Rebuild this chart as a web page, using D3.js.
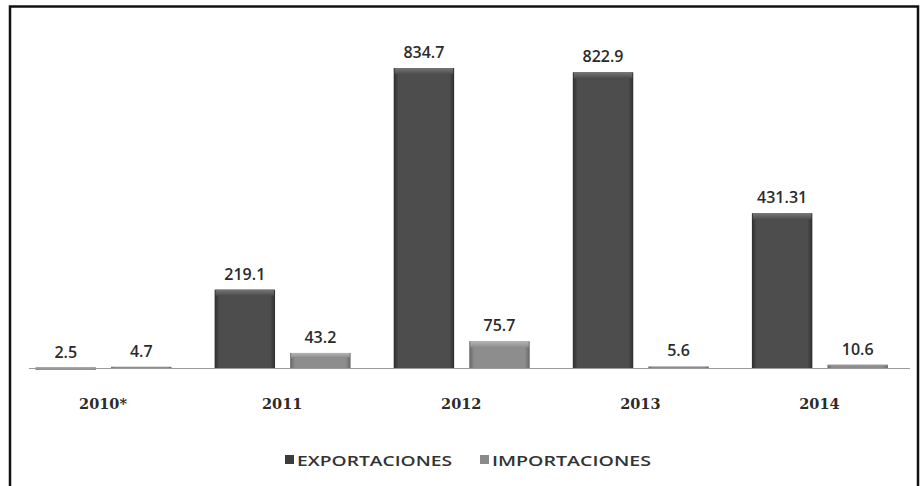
<!DOCTYPE html>
<html>
<head>
<meta charset="utf-8">
<script src="https://cdn.jsdelivr.net/npm/d3@7"></script>
<style>
  body { margin: 0; background: #fff; }
  text { font-family: "Open Sans", "Noto Sans", sans-serif; }
</style>
</head>
<body>
<script>
// chart data
const years = ['2010*', '2011', '2012', '2013', '2014'];
const series = ['EXPORTACIONES', 'IMPORTACIONES'];
const exportaciones = [2.5, 219.1, 834.7, 822.9, 431.31];
const importaciones = [4.7, 43.2, 75.7, 5.6, 10.6];
const valueLabels = [['2.5', '4.7'], ['219.1', '43.2'], ['834.7', '75.7'], ['822.9', '5.6'], ['431.31', '10.6']];

const svgWidth = 922, svgHeight = 486;
const baseY = 368.5;

const svg = d3.select('body').append('svg')
    .attr('width', svgWidth)
    .attr('height', svgHeight);

// bevelled look of the original bars
const defs = svg.append('defs');
function bevel(id, light, mid, dark) {
    const g = defs.append('linearGradient').attr('id', id).attr('x1', 0).attr('x2', 1).attr('y1', 0).attr('y2', 0);
    g.append('stop').attr('offset', '0%').attr('stop-color', dark);
    g.append('stop').attr('offset', '8%').attr('stop-color', mid);
    g.append('stop').attr('offset', '92%').attr('stop-color', mid);
    g.append('stop').attr('offset', '100%').attr('stop-color', dark);
    const t = defs.append('linearGradient').attr('id', id + '_top').attr('x1', 0).attr('x2', 0).attr('y1', 0).attr('y2', 1);
    t.append('stop').attr('offset', '0%').attr('stop-color', light);
    t.append('stop').attr('offset', '100%').attr('stop-color', mid);
}
bevel('gExp', '#777', '#4d4d4d', '#2e2e2e');
bevel('gImp', '#b5b5b5', '#8d8d8d', '#666');
const fills = { EXPORTACIONES: 'url(#gExp)', IMPORTACIONES: 'url(#gImp)' };
const tops = { EXPORTACIONES: 'url(#gExp_top)', IMPORTACIONES: 'url(#gImp_top)' };
const swatch = { EXPORTACIONES: '#3c3c3c', IMPORTACIONES: '#8a8a8a' };

// frame (top, left, right only)
svg.append('path')
    .attr('d', `M10,486 V6.5 H918 V486`)
    .attr('fill', 'none')
    .attr('stroke', '#111')
    .attr('stroke-width', 2.5);

const x0 = d3.scaleBand().domain(years).range([13.5, 909]);
const x1 = d3.scaleBand().domain(series).range([22, 158]).paddingInner(0.2);
const y = d3.scaleLinear().domain([0, 834.7]).range([baseY, 68]);

const data = years.map((yr, i) => ({
    year: yr,
    values: [
        { key: 'EXPORTACIONES', value: exportaciones[i], label: valueLabels[i][0] },
        { key: 'IMPORTACIONES', value: importaciones[i], label: valueLabels[i][1] }
    ]
}));

const groups = svg.selectAll('g.grp')
    .data(data)
    .enter()
    .append('g')
    .attr('class', 'grp')
    .attr('transform', d => `translate(${x0(d.year)},0)`);

const bars = groups.selectAll('g.bar')
    .data(d => d.values)
    .enter()
    .append('g')
    .attr('class', 'bar');

bars.append('rect')
    .attr('x', d => x1(d.key))
    .attr('y', d => y(d.value))
    .attr('width', x1.bandwidth())
    .attr('height', d => Math.max(baseY - y(d.value), 2))
    .attr('fill', d => fills[d.key]);

bars.append('rect')
    .attr('x', d => x1(d.key) + 1)
    .attr('y', d => y(d.value))
    .attr('width', x1.bandwidth() - 2)
    .attr('height', d => Math.min(Math.max(baseY - y(d.value), 0) * 0.3, 6))
    .attr('fill', d => tops[d.key]);

bars.append('text')
    .attr('x', d => x1(d.key) + x1.bandwidth() / 2)
    .attr('y', d => y(d.value) - 10)
    .attr('text-anchor', 'middle')
    .attr('font-size', 16)
    .attr('font-weight', 600)
    .attr('fill', '#2b2b2b')
    .text(d => d.label);

// baseline
svg.append('line')
    .attr('x1', 29).attr('x2', 910)
    .attr('y1', baseY).attr('y2', baseY)
    .attr('stroke', '#9a9a9a')
    .attr('stroke-width', 1.2);

// category axis
const xAxis = svg.append('g')
    .attr('transform', `translate(0,${baseY})`)
    .call(d3.axisBottom(x0).tickSize(0).tickPadding(30));
xAxis.select('.domain').remove();
xAxis.selectAll('text')
    .attr('font-weight', 700)
    .attr('fill', '#2b2b2b')
    .style('font-family', '"DejaVu Serif", serif')
    .attr('font-size', 14.5);

// legend
const legend = svg.append('g').attr('transform', 'translate(0,460)');
const legendX = [285, 480];
series.forEach((s, i) => {
    const g = legend.append('g').attr('transform', `translate(${legendX[i]},0)`);
    g.append('rect').attr('x', 0).attr('y', -5).attr('width', 9).attr('height', 9).attr('fill', swatch[s]);
    g.append('text').attr('x', 12).attr('y', 5.5)
        .attr('font-size', 15)
        .attr('font-weight', 600)
        .attr('fill', '#333')
        .attr('textLength', i === 0 ? 155 : 159)
        .attr('lengthAdjust', 'spacingAndGlyphs')
        .style('font-family', '"Open Sans", sans-serif')
        .text(s);
});
</script>
</body>
</html>
